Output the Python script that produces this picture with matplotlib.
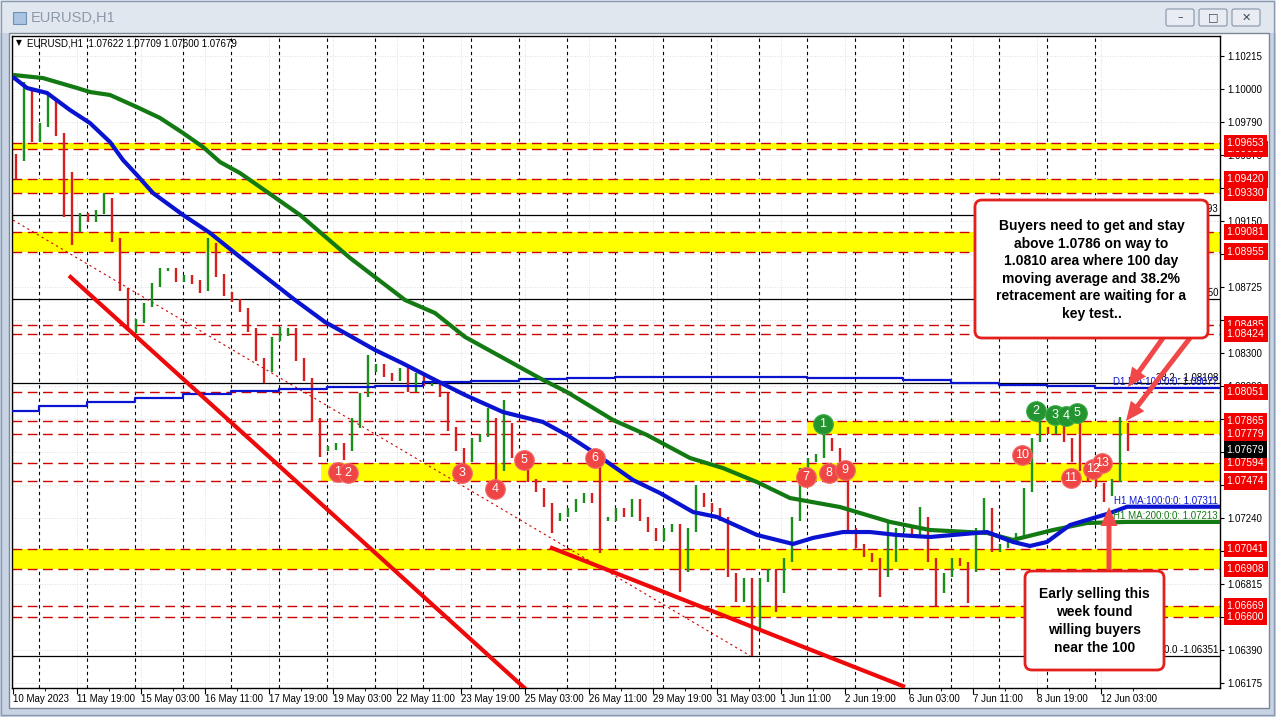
import matplotlib
matplotlib.use('Agg')
import matplotlib.pyplot as plt
import matplotlib.transforms as mtrans
from matplotlib.patches import Rectangle, FancyBboxPatch, FancyArrow

plt.rcParams['font.family'] = ['Liberation Sans', 'DejaVu Sans']

# ---------------- data ----------------
# closes of 4-hour groups of the H1 chart, group k sits at bar 4k+1.5
closes = [1.0955, 1.1000, 1.0967, 1.0977, 1.0993, 1.0971, 1.0926, 1.0909, 1.0919, 1.0916,
          1.0921, 1.0929, 1.0903, 1.0871, 1.0851, 1.0851, 1.0861, 1.0874, 1.0884, 1.0884,
          1.0877, 1.0879, 1.0876, 1.0871, 1.0900, 1.0880, 1.0868, 1.0864, 1.0858, 1.0845,
          1.0826, 1.0819, 1.0839, 1.0842, 1.0845, 1.0826, 1.0813, 1.0787, 1.0768, 1.0769,
          1.0771, 1.0768, 1.0787, 1.0803, 1.0819, 1.0822, 1.0816, 1.0813, 1.0819, 1.0806,
          1.0816, 1.0810, 1.0810, 1.0803, 1.0781, 1.0768, 1.0761, 1.0774, 1.0777, 1.0787,
          1.0755, 1.0784, 1.0764, 1.0758, 1.0748, 1.0742, 1.0732, 1.0723, 1.0726, 1.0729,
          1.0735, 1.0739, 1.0735, 1.0723, 1.0723, 1.0729, 1.0726, 1.0735, 1.0723, 1.0716,
          1.0710, 1.0716, 1.0719, 1.0690, 1.0716, 1.0739, 1.0732, 1.0729, 1.0723, 1.0687,
          1.0671, 1.0684, 1.0652, 1.0684, 1.0690, 1.0677, 1.0697, 1.0723, 1.0755, 1.0761,
          1.0764, 1.0774, 1.0768, 1.0755, 1.0716, 1.0706, 1.0700, 1.0697, 1.0687, 1.0697,
          1.0716, 1.0716, 1.0713, 1.0723, 1.0697, 1.0677, 1.0687, 1.0697, 1.0694, 1.0690,
          1.0716, 1.0729, 1.0703, 1.0706, 1.0710, 1.0713, 1.0742, 1.0774, 1.0781, 1.0779,
          1.0782, 1.0774, 1.0761, 1.0755, 1.0748, 1.0745, 1.0739, 1.0748, 1.0784, 1.07679]
wick_hi = {1: 1.1005, 4: 1.0998, 7: 1.0947, 11: 1.0933, 24: 1.0904, 33: 1.0847, 44: 1.0829,
           59: 1.0795, 61: 1.0800, 73: 1.0757, 85: 1.0745, 101: 1.0779, 109: 1.0721,
           113: 1.0731, 121: 1.0737, 128: 1.0787, 133: 1.0785, 138: 1.0789}
wick_lo = {0: 1.0942, 6: 1.0918, 7: 1.0900, 14: 1.0845, 15: 1.0843, 23: 1.0869, 31: 1.0811,
           38: 1.0763, 41: 1.0761, 43: 1.0782, 56: 1.0756, 60: 1.0748, 67: 1.0714, 73: 1.0701,
           83: 1.0676, 92: 1.06351, 95: 1.0663, 108: 1.0673, 115: 1.0667, 119: 1.0669, 136: 1.0734}

ma100_bar = [0, 7, 17, 28.5, 38.5, 48.5, 55, 62, 70, 85, 98.5, 113.5, 141, 156, 166, 181, 194.5,
             211, 226, 245, 265, 277, 290, 310, 323.5, 340, 352, 372, 390, 400, 415, 428.5, 442,
             458.5, 487, 500, 508.5, 517, 528.5, 542, 548.5, 557, 603.5]
ma100_val = [1.10080, 1.10009, 1.09977, 1.09867, 1.09783, 1.09661, 1.09545, 1.09448, 1.09332,
             1.09191, 1.09075, 1.08920, 1.08643, 1.08501, 1.08430, 1.08321, 1.08237, 1.08128,
             1.08031, 1.07921, 1.07857, 1.07773, 1.07664, 1.07483, 1.07399, 1.07277, 1.07245,
             1.07129, 1.07071, 1.07110, 1.07148, 1.07148, 1.07129, 1.07116, 1.07148, 1.07084,
             1.07058, 1.07084, 1.07193, 1.07245, 1.07270, 1.07311, 1.07311]
ma200_bar = [0, 15, 32, 38.5, 48.5, 62, 73.5, 85, 95, 103.5, 113.5, 143.5, 168.5, 196, 211, 226,
             265, 277, 300, 317, 338.5, 355, 372, 388.5, 413.5, 438.5, 458.5, 487, 500, 520, 537,
             557, 603.5]
ma200_val = [1.10093, 1.10073, 1.10009, 1.09983, 1.09964, 1.09886, 1.09816, 1.09719, 1.09629,
             1.09532, 1.09461, 1.09191, 1.08914, 1.08643, 1.08559, 1.08405, 1.08128, 1.08050,
             1.07870, 1.07773, 1.07625, 1.07560, 1.07470, 1.07367, 1.07309, 1.07213, 1.07161,
             1.07142, 1.07097, 1.07161, 1.07206, 1.07213, 1.07213]
# daily MA100 drawn on the H1 chart: one value per trading day
d1_start = [0, 13, 37, 61, 85, 109, 133, 157, 181, 205, 229, 253, 277, 301, 325, 349, 373,
            397, 421, 445, 469, 493, 517, 541]
d1_val = [1.07928, 1.07960, 1.07986, 1.08011, 1.08037, 1.08057, 1.08070, 1.08082, 1.08089,
          1.08115, 1.08121, 1.08134, 1.08140, 1.08147, 1.08147, 1.08147, 1.08147, 1.08140,
          1.08140, 1.08128, 1.08108, 1.08095, 1.08089, 1.08077]

# support / resistance zones: (upper, lower, first bar of yellow fill)
zones = [(1.09653, 1.09618, 0), (1.09420, 1.09330, 0), (1.09081, 1.08955, 0),
         (1.07865, 1.07779, 397), (1.07594, 1.07474, 154), (1.07041, 1.06908, 0),
         (1.06669, 1.06600, 352)]
single_levels = [1.08485, 1.08424, 1.08051]
fib_levels = [1.09193, 1.08650, 1.08108, 1.06351]
fib_labels = ['61.8 - 1.09193', '50.0 - 1.08650', '38.2 - 1.08108', '0.0 -1.06351']

# trend lines (bar, price) -> (bar, price)
trend_thick = [((28, 1.0880), (262, 1.0607)), ((268.5, 1.0705), (446, 1.0615))]
trend_dotted = ((0, 1.09158), (368.5, 1.06351))

red_marks = [(162.5, 1.07535), (167.5, 1.07528), (224.5, 1.07528), (241, 1.07425),
             (255.5, 1.07612), (291, 1.07625), (396.5, 1.07502), (408, 1.07528),
             (416, 1.07548), (504.5, 1.07644), (529, 1.07496), (540, 1.07554), (544.5, 1.07593)]
green_marks = [(405, 1.07844), (511.5, 1.07928), (521, 1.07902), (526.5, 1.07896), (532, 1.07915)]

time_bars = [0, 32, 64, 96, 128, 160, 192, 224, 256, 288, 320, 352, 384, 416, 448, 480, 512, 544]
time_labels = ['10 May 2023', '11 May 19:00', '15 May 03:00', '16 May 11:00', '17 May 19:00',
               '19 May 03:00', '22 May 11:00', '23 May 19:00', '25 May 03:00', '26 May 11:00',
               '29 May 19:00', '31 May 03:00', '1 Jun 11:00', '2 Jun 19:00', '6 Jun 03:00',
               '7 Jun 11:00', '8 Jun 19:00', '12 Jun 03:00']
price_ticks = [1.10215, 1.10000, 1.09790, 1.09575, 1.09365, 1.09150, 1.08940, 1.08725, 1.08515,
               1.08300, 1.08090, 1.07875, 1.07665, 1.07450, 1.07240, 1.07025, 1.06815, 1.06600,
               1.06390, 1.06175]
red_labels = [1.09618, 1.09653, 1.09420, 1.09330, 1.09081, 1.08955, 1.08485, 1.08424, 1.08051,
              1.07865, 1.07779, 1.07594, 1.07474, 1.07041, 1.06908, 1.06669, 1.06600]
last_price = 1.07679

# ---------------- figure / window chrome ----------------
W, H = 1276, 717
fig = plt.figure(figsize=(W / 100, H / 100), dpi=100)
fig.patch.set_facecolor('#c8d4e4')

bg = fig.add_axes([0, 0, 1, 1], zorder=0)
bg.set_xlim(0, W); bg.set_ylim(H, 0); bg.axis('off')
bg.add_patch(Rectangle((0, 0), W, 33, fc='#e1e7ef', ec='none'))
bg.add_patch(Rectangle((1, 1), W - 3, H - 3, fc='none', ec='#8a9ab0', lw=1))
bg.add_patch(Rectangle((9, 33), 1260, 675, fc='white', ec='#7c8796', lw=1))
bg.add_patch(Rectangle((13, 12), 13, 12, fc='#a9c3e0', ec='#6f8fb5', lw=0.8))
bg.text(31, 18, 'EURUSD,H1', fontsize=10.5, color='#8d98a8', va='center')
for bx, sym in [(1166, '\u2013'), (1199, '\u25a1'), (1232, '\u2715')]:
    bg.add_patch(FancyBboxPatch((bx, 9), 28, 17, boxstyle='round,pad=0,rounding_size=2',
                                fc='#e9edf3', ec='#8594a8', lw=0.8))
    bg.text(bx + 14, 17.5, sym, fontsize=8, ha='center', va='center', color='#3c4655',
            family=['DejaVu Sans'])

# ---------------- chart axes ----------------
ax = fig.add_axes([12 / W, 1 - 688 / H, 1208 / W, 652 / H], zorder=1)
ax.set_facecolor('white')
ax.set_xlim(-0.5, 603.5)
ax.set_ylim(1.06143, 1.10344)
for s in ax.spines.values():
    s.set_color('black'); s.set_linewidth(1)

ax.yaxis.tick_right()
ax.set_yticks(price_ticks)
ax.set_yticklabels(['%.5f' % p for p in price_ticks])
ax.tick_params(axis='y', labelsize=7, length=3, pad=2, colors='black')
ax.set_xticks(time_bars)
ax.set_xticklabels(time_labels, ha='left')
ax.set_xticks([b + 16 for b in time_bars], minor=True)
ax.tick_params(axis='x', labelsize=7, length=4, pad=0.5)
ax.tick_params(axis='x', which='minor', length=2)

# faint grid + daily separators
for p in price_ticks:
    ax.axhline(p, color='#d4d4d4', ls=(0, (1, 2)), lw=0.6, zorder=0.2)
for b in time_bars:
    ax.axvline(b, color='#d4d4d4', ls=(0, (1, 2)), lw=0.6, zorder=0.2)
for b in d1_start[1:]:
    ax.axvline(b, color='black', ls=(0, (3, 3)), lw=0.8, zorder=0.3)

# zones and levels
for hi, lo, start in zones:
    ax.add_patch(Rectangle((start, lo), 603.5 - start, hi - lo, fc='#ffff00', ec='none', zorder=0.4))
    for lv in (hi, lo):
        ax.axhline(lv, color='#cc0000', ls=(0, (7, 4)), lw=1, zorder=0.6)
for lv in single_levels:
    ax.axhline(lv, color='#cc0000', ls=(0, (7, 4)), lw=1, zorder=0.6)
for lv, lab in zip(fib_levels, fib_labels):
    ax.axhline(lv, color='black', lw=0.9, zorder=0.7)
    ax.text(602.5, lv + 0.00003, lab, ha='right', va='bottom', fontsize=7, zorder=0.8)

# price bars
xs, los, his, cols = [], [], [], []
for k, c in enumerate(closes):
    prev = closes[k - 1] if k > 0 else c + 0.0002
    hi = wick_hi.get(k, max(prev, c) + 0.00012)
    lo = wick_lo.get(k, min(prev, c) - 0.00012)
    xs.append(4 * k + 1.5); his.append(hi); los.append(lo)
    cols.append('#1b8f1b' if c >= prev else '#d81e1e')
ax.vlines(xs, los, his, colors=cols, lw=1.7, zorder=2)

# moving averages
ax.step(d1_start + [603.5], d1_val + [d1_val[-1]], where='post', color='#0a14d0', lw=1.6, zorder=3)
ax.plot(ma200_bar, ma200_val, color='#137a13', lw=3, zorder=3, solid_capstyle='butt')
ax.plot(ma100_bar, ma100_val, color='#0a14d0', lw=3, zorder=3.1, solid_capstyle='butt')
ax.text(602.5, ma100_val[-1] + 0.00003, 'H1 MA:100:0:0: 1.07311', ha='right', va='bottom',
        fontsize=7, color='#0a14d0', zorder=3.2)
ax.text(602.5, ma200_val[-1] + 0.00003, 'H1 MA:200:0:0: 1.07213', ha='right', va='bottom',
        fontsize=7, color='#137a13', zorder=3.2)
ax.text(602.5, d1_val[-1] + 0.00003, 'D1 MA:100:0:0: 1.08077', ha='right', va='bottom',
        fontsize=7, color='#0a14d0', zorder=3.2)

# trend lines
for (x0, y0), (x1, y1) in trend_thick:
    ax.plot([x0, x1], [y0, y1], color='#ee0a0a', lw=3, zorder=3.5, solid_capstyle='butt')
(x0, y0), (x1, y1) = trend_dotted
ax.plot([x0, x1], [y0, y1], color='#cc0000', lw=0.8, ls=(0, (2, 3)), zorder=1.5)

# numbered markers
for i, (bx, py) in enumerate(red_marks):
    ax.scatter(bx, py, s=200, color='#ef4545', edgecolors='#f26a6a', linewidths=0.8, zorder=5)
    ax.text(bx, py, str(i + 1), ha='center', va='center', color='white', fontsize=9, zorder=6)
for i, (bx, py) in enumerate(green_marks):
    ax.scatter(bx, py, s=200, color='#23942f', edgecolors='#3aaa46', linewidths=0.8, zorder=5)
    ax.text(bx, py, str(i + 1), ha='center', va='center', color='white', fontsize=9, zorder=6)

# price labels on the right scale
btr = mtrans.blended_transform_factory(ax.transAxes, ax.transData)
for lv in red_labels:
    ax.text(1.0055, lv, '%.5f' % lv, transform=btr, ha='left', va='center', fontsize=7.5,
            color='white', zorder=10, clip_on=False,
            bbox=dict(boxstyle='square,pad=0.3', fc='#f20000', ec='none'))
ax.text(1.0055, last_price, '%.5f' % last_price, transform=btr, ha='left', va='center',
        fontsize=7.5, color='white', zorder=10, clip_on=False,
        bbox=dict(boxstyle='square,pad=0.3', fc='black', ec='none'))

# ---------------- overlay: header, notes, arrows ----------------
ov = fig.add_axes([0, 0, 1, 1], zorder=5)
ov.set_xlim(0, W); ov.set_ylim(H, 0); ov.axis('off')
ov.patch.set_alpha(0)
ov.text(16, 43, '\u25bc', fontsize=5.5, va='center', family=['DejaVu Sans'])
ov.text(27, 43, 'EURUSD,H1  1.07622 1.07709 1.07600 1.07679', fontsize=7, va='center')

arrow_kw = dict(width=5, head_width=17, head_length=19, length_includes_head=True,
                fc='#f04848', ec='none', zorder=1)
ov.add_patch(FancyArrow(1163, 338, -35, 49, **arrow_kw))
ov.add_patch(FancyArrow(1190, 338, -64, 83, **arrow_kw))
ov.add_patch(FancyArrow(1109, 571, 0, -64, **arrow_kw))

ov.add_patch(FancyBboxPatch((975, 200), 233, 138, boxstyle='round,pad=0,rounding_size=7',
                            fc='white', ec='#e3201c', lw=2, zorder=2))
ov.text(1091.5, 270, 'Buyers need to get and stay\nabove 1.0786 on way to\n1.0810 area where 100 day\n'
        'moving average and 38.2%\nretracement are waiting for a\nkey test..',
        ha='center', va='center', fontsize=10, fontweight='bold', linespacing=1.32, zorder=3)
ov.add_patch(FancyBboxPatch((1025, 571), 139, 99, boxstyle='round,pad=0,rounding_size=7',
                            fc='white', ec='#e3201c', lw=2, zorder=2))
ov.text(1094.5, 621, 'Early selling this\nweek found\nwilling buyers\nnear the 100',
        ha='center', va='center', fontsize=10, fontweight='bold', linespacing=1.38, zorder=3)

fig.savefig('out.png', dpi=100, facecolor=fig.get_facecolor())
